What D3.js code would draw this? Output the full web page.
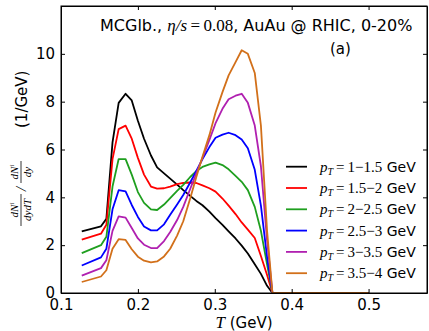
<!DOCTYPE html>
<html>
<head>
<meta charset="utf-8">
<script src="https://cdn.jsdelivr.net/npm/d3@7"></script>
<style>
  body { margin: 0; background: #fff; }
  svg text { font-family: "DejaVu Sans", sans-serif; fill: #000; }
  .axis path, .axis line { stroke: #000; stroke-width: 1; }
  .axis text { font-size: 15px; font-family: "DejaVu Sans", sans-serif; }
  .math { font-family: "Liberation Serif", "DejaVu Serif", serif; }
</style>
</head>
<body>
<div id="chart"></div>
<script>

// temperature grid (GeV)
var temperature = [0.127, 0.152, 0.159, 0.167, 0.175, 0.184, 0.192, 0.200, 0.208, 0.217,
    0.225, 0.234, 0.242, 0.251, 0.259, 0.268, 0.276, 0.284, 0.293, 0.301,
    0.310, 0.318, 0.327, 0.335, 0.343, 0.352, 0.360, 0.368, 0.375, 0.500];

var pt1to15 = [2.58, 2.79, 3.10, 6.30, 7.95, 8.33, 8.05, 7.20, 6.45, 5.75,
    5.25, 5.00, 4.78, 4.53, 4.30, 4.06, 3.85, 3.67, 3.40, 3.13,
    2.85, 2.58, 2.28, 1.98, 1.65, 1.20, 0.80, 0.30, 0, 0];
var pt15to2 = [2.23, 2.48, 2.85, 5.60, 6.85, 7.00, 6.45, 5.65, 4.95, 4.45,
    4.36, 4.38, 4.45, 4.55, 4.60, 4.62, 4.60, 4.50, 4.38, 4.24,
    3.95, 3.65, 3.30, 2.95, 2.65, 2.30, 1.55, 0.75, 0, 0];
var pt2to25 = [1.67, 2.00, 2.35, 4.45, 5.60, 5.60, 4.95, 4.22, 3.77, 3.50,
    3.47, 3.70, 3.97, 4.27, 4.52, 4.85, 5.10, 5.27, 5.38, 5.45,
    5.35, 5.17, 4.90, 4.65, 4.30, 3.60, 2.60, 1.20, 0, 0];
var pt25to3 = [1.15, 1.49, 1.85, 3.50, 4.30, 4.25, 3.68, 3.18, 2.78, 2.62,
    2.62, 2.87, 3.27, 3.70, 4.10, 4.62, 5.10, 5.60, 6.10, 6.49,
    6.62, 6.70, 6.60, 6.42, 6.05, 5.15, 3.65, 1.50, 0, 0];
var pt3to35 = [0.73, 1.04, 1.37, 2.60, 3.20, 3.15, 2.72, 2.28, 2.02, 1.88,
    1.88, 2.17, 2.55, 3.05, 3.60, 4.35, 5.00, 5.65, 6.40, 7.10,
    7.70, 8.10, 8.25, 8.33, 7.95, 7.00, 5.30, 2.20, 0, 0];
var pt35to4 = [0.46, 0.69, 0.95, 1.85, 2.25, 2.22, 1.83, 1.52, 1.35, 1.28,
    1.32, 1.53, 1.85, 2.40, 3.00, 3.95, 4.85, 5.70, 6.60, 7.55,
    8.40, 9.10, 9.65, 10.15, 10.00, 9.20, 7.00, 2.60, 0, 0];

var ptRanges = ["1\u22121.5", "1.5\u22122", "2\u22122.5", "2.5\u22123", "3\u22123.5", "3.5\u22124"];
var seriesValues = [pt1to15, pt15to2, pt2to25, pt25to3, pt3to35, pt35to4];
var seriesColors = ["#000000", "#ff0000", "#1f9f1f", "#0000ff", "#b020b0", "#d2701a"];

var xTicks = [0.1, 0.2, 0.3, 0.4, 0.5];
var yTicks = [0, 2, 4, 6, 8, 10];

var margin = { top: 6, right: 2, bottom: 38, left: 61 };
var width = 429 - margin.left - margin.right;
var height = 331 - margin.top - margin.bottom;

var svg = d3.select("#chart").append("svg")
    .attr("width", 429)
    .attr("height", 331);

var g = svg.append("g")
    .attr("transform", "translate(" + margin.left + "," + margin.top + ")");

var x = d3.scaleLinear().domain([0.1, 0.576]).range([0, width]);
var y = d3.scaleLinear().domain([0, 12]).range([height, 0]);

// lines
var line = d3.line()
    .x(function(d, i) { return x(temperature[i]); })
    .y(function(d) { return y(d); });

seriesValues.forEach(function(vals, k) {
    g.append("path")
        .datum(vals)
        .attr("fill", "none")
        .attr("stroke", seriesColors[k])
        .attr("stroke-width", 1.8)
        .attr("stroke-linejoin", "round")
        .attr("d", line);
});

// axes, ticks pointing inward on all sides
g.append("g").attr("class", "axis")
    .attr("transform", "translate(0," + height + ")")
    .call(d3.axisBottom(x).tickValues(xTicks).tickFormat(d3.format(".1f")).tickSize(-4).tickPadding(6).tickSizeOuter(0));
g.append("g").attr("class", "axis")
    .call(d3.axisTop(x).tickValues(xTicks).tickFormat("").tickSize(-4).tickSizeOuter(0));
g.append("g").attr("class", "axis")
    .call(d3.axisLeft(y).tickValues(yTicks).tickFormat(d3.format("d")).tickSize(-4).tickPadding(6).tickSizeOuter(0));
g.append("g").attr("class", "axis")
    .attr("transform", "translate(" + width + ",0)")
    .call(d3.axisRight(y).tickValues(yTicks).tickFormat("").tickSize(-4).tickSizeOuter(0));

g.append("rect")
    .attr("width", width)
    .attr("height", height)
    .attr("fill", "none")
    .attr("stroke", "#000")
    .attr("stroke-width", 1);

// title
var title = svg.append("text").attr("x", 100).attr("y", 31).style("font-size", "16px");
title.append("tspan").text("MCGlb., ");
title.append("tspan").attr("class", "math").style("font-style", "italic").style("font-size", "17px").text("\u03b7/s");
title.append("tspan").attr("class", "math").style("font-size", "17px").text("\u2009=\u20090.08");
title.append("tspan").text(", AuAu @ RHIC, 0-20%");

svg.append("text").attr("x", 330).attr("y", 54).style("font-size", "15px").text("(a)");

// legend
var legend = svg.append("g");
ptRanges.forEach(function(r, k) {
    var ly = 166.7 + k * 21.3;
    legend.append("line")
        .attr("x1", 286).attr("x2", 307)
        .attr("y1", ly).attr("y2", ly)
        .attr("stroke", seriesColors[k])
        .attr("stroke-width", 1.8);
    var t = legend.append("text").attr("x", 320).attr("y", ly + 5).style("font-size", "14px");
    t.append("tspan").attr("class", "math").style("font-style", "italic").style("font-size", "15px").text("p");
    t.append("tspan").attr("class", "math").style("font-style", "italic").style("font-size", "10px").attr("dy", 3).text("T");
    t.append("tspan").attr("class", "math").style("font-size", "15px").attr("dy", -3).text("\u2009=\u2009" + r);
    t.append("tspan").text(" GeV");
});

// x label
var xl = svg.append("text").attr("x", 244).attr("y", 328).attr("text-anchor", "middle").style("font-size", "15px");
xl.append("tspan").attr("class", "math").style("font-style", "italic").style("font-size", "17px").text("T");
xl.append("tspan").text(" (GeV)");

// y label: dN/dydT / dN/dy (1/GeV), rotated
var yl = svg.append("g").attr("transform", "translate(21,0) rotate(-90)");
function fraction(cx, bottom, w) {
    var num = yl.append("text").attr("class", "math").attr("x", cx).attr("y", -3)
        .attr("text-anchor", "middle").style("font-size", "11px").style("font-style", "italic");
    num.append("tspan").text("dN");
    num.append("tspan").attr("dy", -4).style("font-size", "7px").text("i");
    yl.append("line").attr("x1", cx - w / 2).attr("x2", cx + w / 2)
        .attr("y1", 0).attr("y2", 0).attr("stroke", "#000").attr("stroke-width", 0.8);
    yl.append("text").attr("class", "math").attr("x", cx).attr("y", 10)
        .attr("text-anchor", "middle").style("font-size", "11px").style("font-style", "italic").text(bottom);
}
fraction(-210, "dydT", 32);
yl.append("text").attr("class", "math").attr("x", -189).attr("y", 5)
    .attr("text-anchor", "middle").style("font-size", "15px").style("font-style", "italic").text("/");
fraction(-172, "dy", 22);
yl.append("text").attr("x", -128).attr("y", 6).style("font-size", "15px").text("(1/GeV)");

</script>
</body>
</html>
